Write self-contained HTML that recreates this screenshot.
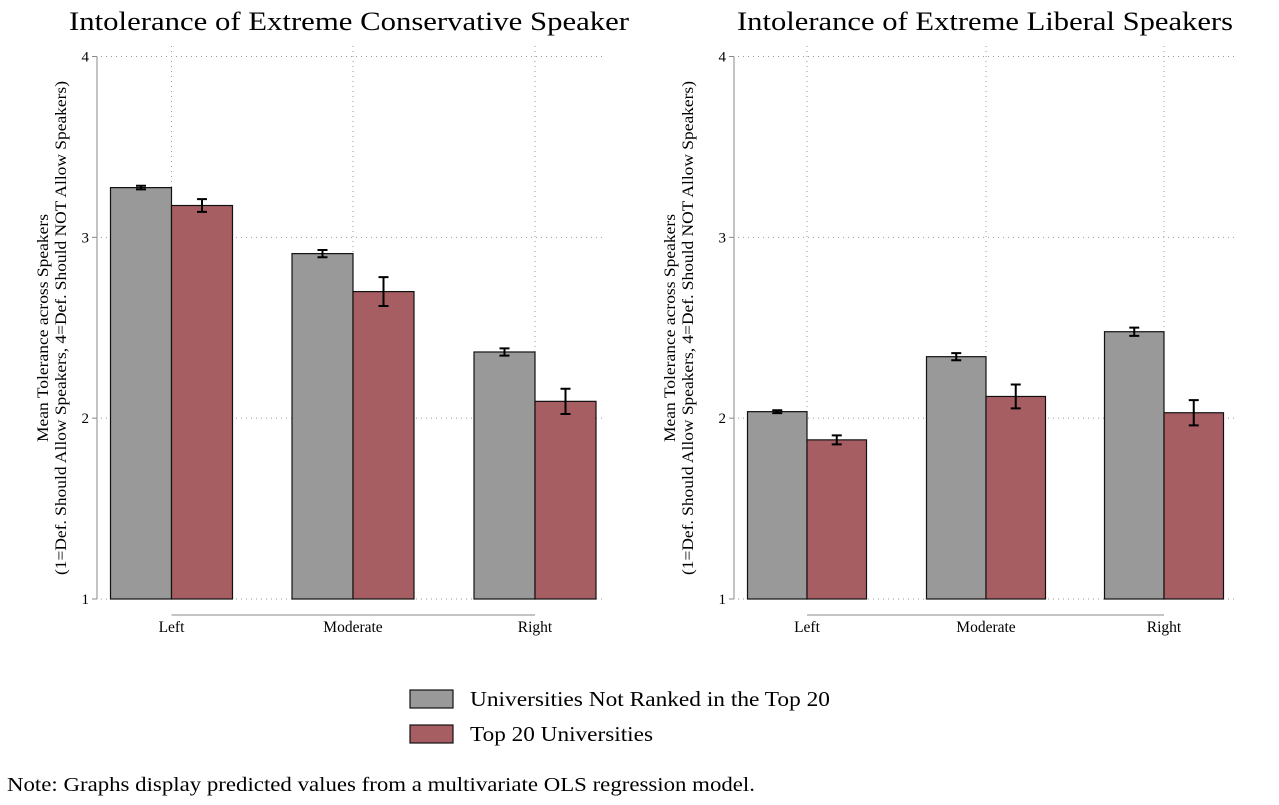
<!DOCTYPE html>
<html><head><meta charset="utf-8">
<style>
html,body{margin:0;padding:0;background:#fff;}
svg{display:block;font-family:"Liberation Serif",serif;}
</style></head>
<body>
<svg id="chart" width="1279" height="805" viewBox="0 0 1279 805"></svg>
<script>
const categories = ["Left", "Moderate", "Right"];
const seriesNames = ["Universities Not Ranked in the Top 20", "Top 20 Universities"];
const consNotTop = [3.275, 2.91, 2.366];
const consNotTopErr = [0.01, 0.02, 0.02];
const consTop = [3.176, 2.70, 2.093];
const consTopErr = [0.035, 0.08, 0.07];
const libNotTop = [2.036, 2.34, 2.478];
const libNotTopErr = [0.008, 0.02, 0.023];
const libTop = [1.88, 2.12, 2.03];
const libTopErr = [0.025, 0.066, 0.07];
const yTicks = [1, 2, 3, 4];
const titles = ["Intolerance of Extreme Conservative Speaker", "Intolerance of Extreme Liberal Speakers"];

const NS = "http://www.w3.org/2000/svg";
const svg = document.getElementById("chart");
function mk(tag, attrs, parent) {
  const e = document.createElementNS(NS, tag);
  for (const k in attrs) e.setAttribute(k, attrs[k]);
  (parent || svg).appendChild(e);
  return e;
}
const Y4 = 56.5, Y1 = 599;
function yScale(v) { return Y1 - (v - 1) * (Y1 - Y4) / 3; }

const panels = [
  {axisX: 97, groups: [171.5, 353, 535], right: 605, bw: 61, titleX: 349, titleW: 560, a: consNotTop, ae: consNotTopErr, b: consTop, be: consTopErr, labelX: 48},
  {axisX: 734, groups: [807, 986, 1164], right: 1236, bw: 59.5, titleX: 985, titleW: 496, a: libNotTop, ae: libNotTopErr, b: libTop, be: libTopErr, labelX: 675}
];

panels.forEach((p, pi) => {
  const g = mk("g", {});
  
  
  const t = mk("text", {x: p.titleX, y: 30, "text-anchor": "middle", "font-size": 26, fill: "#000", textLength: p.titleW, lengthAdjust: "spacingAndGlyphs"}, g);
  t.textContent = titles[pi];
  
  
  yTicks.forEach(v => {
    const y = yScale(v);
    const gl = mk("line", {x1: p.axisX + 4, x2: p.right, y1: y, y2: y, stroke: "#999", "stroke-width": 1, "stroke-dasharray": "1 4"}, g);
    
    
    const tk = mk("line", {x1: p.axisX - 5, x2: p.axisX, y1: y, y2: y, stroke: "#888"}, g);
    
    
    const tl = mk("text", {x: p.axisX - 8, y: y + 5, "text-anchor": "end", "font-size": 15, fill: "#000"}, g);
    tl.textContent = v;
    
    
  });
  p.groups.forEach(x => {
    const vl = mk("line", {x1: x, x2: x, y1: 46, y2: Y1, stroke: "#999", "stroke-width": 1, "stroke-dasharray": "1 4"}, g);
    
    
  });
  const ax = mk("line", {x1: p.axisX, x2: p.axisX, y1: Y4, y2: Y1, stroke: "#888"}, g);
  
  
  const xa = mk("line", {x1: p.groups[0], x2: p.groups[2], y1: 615, y2: 615, stroke: "#888"}, g);
  
  
  const yl = mk("text", {transform: `translate(${p.labelX},${328}) rotate(-90)`, "text-anchor": "middle", "font-size": 16, fill: "#000"}, g);
  
  
  const s1 = mk("tspan", {x: 0, y: 0, textLength: 228, lengthAdjust: "spacingAndGlyphs"}, yl); s1.textContent = "Mean Tolerance across Speakers";
  const s2 = mk("tspan", {x: 0, y: 18, textLength: 494, lengthAdjust: "spacingAndGlyphs"}, yl); s2.textContent = "(1=Def. Should Allow Speakers, 4=Def. Should NOT Allow Speakers)";
  categories.forEach((c, i) => {
    const cx = p.groups[i];
    [[p.a, p.ae, "#999999", cx - p.bw, "bar-not-top20"], [p.b, p.be, "#a65e62", cx, "bar-top20"]].forEach(([vals, errs, col, x0, nm]) => {
      const y = yScale(vals[i]);
      const r = mk("rect", {x: x0, y: y, width: p.bw, height: Y1 - y, fill: col, stroke: "#111", "stroke-width": 1.2}, g);
      
      
      const mx = x0 + p.bw / 2, yh = yScale(vals[i] + errs[i]), ylo = yScale(vals[i] - errs[i]);
      const eb = mk("path", {d: `M${mx - 5},${yh}H${mx + 5}M${mx},${yh}V${ylo}M${mx - 5},${ylo}H${mx + 5}`, stroke: "#000", "stroke-width": 2, fill: "none"}, g);
      
      
    });
    const cl = mk("text", {x: cx, y: 632, "text-anchor": "middle", "font-size": 15.5, fill: "#000"}, g);
    cl.textContent = c;
    
    
  });
});

const legCols = ["#999999", "#a65e62"];
seriesNames.forEach((n, i) => {
  const y = 690 + i * 35;
  const r = mk("rect", {x: 410, y: y, width: 43, height: 18, fill: legCols[i], stroke: "#111", "stroke-width": 1.2});
  
  
  const t = mk("text", {x: 470, y: y + 16, "font-size": 21, fill: "#000", textLength: i === 0 ? 360 : 183, lengthAdjust: "spacingAndGlyphs"});
  t.textContent = n;
  
  
});
const note = mk("text", {x: 7, y: 791, "font-size": 19.5, fill: "#000", textLength: 748, lengthAdjust: "spacingAndGlyphs"});
note.textContent = "Note: Graphs display predicted values from a multivariate OLS regression model.";


</script>
</body></html>
